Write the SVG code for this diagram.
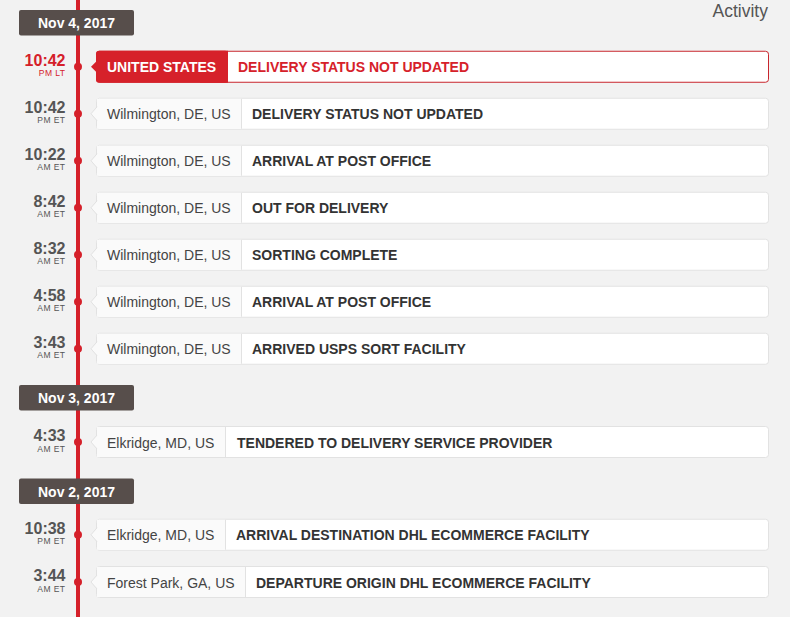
<svg xmlns="http://www.w3.org/2000/svg" width="790" height="617" viewBox="0 0 790 617">
<style>
text{font-family:"Liberation Sans",Arial,sans-serif}
.bg{fill:#f2f2f2}
.line{fill:#d5202a}
.dot{fill:#d5202a}
.badge{fill:#574e4b}
.btxt{fill:#fff;font-size:14px;font-weight:bold;text-anchor:middle}
.time{fill:#555;font-size:16px;font-weight:bold;text-anchor:end}
.tz{fill:#555;font-size:8.5px;letter-spacing:0.45px;text-anchor:end}
.card{fill:#fff;stroke:#e2e2e2;stroke-width:1}
.left{fill:#fafafa}
.sep{stroke:#e2e2e2;stroke-width:1}
.ptr{fill:#fafafa}
.ptrs{fill:none;stroke:#e2e2e2;stroke-width:1}
.loc{fill:#444;font-size:14px}
.st{fill:#333;font-size:14px;font-weight:bold}
.red .time,.red .tz{fill:#d5202a}
.red .card{stroke:#c8262d}
.red .left,.red .ptr{fill:#d6212a}
.red .loc{fill:#fff;font-weight:bold}
.red .st{fill:#d6212a}
.act{fill:#555;font-size:17.5px;text-anchor:end}
</style>
<rect class="bg" x="0" y="0" width="790" height="617"/>
<text class="act" x="768" y="17">Activity</text>
<g id="connectors">
<rect class="line" x="76" y="0" width="4" height="617"/>
</g>
<g id="date-nov4"><rect class="badge" x="19" y="10" width="115" height="25.5" rx="2"/><text class="btxt" x="76.5" y="28">Nov 4, 2017</text></g>
<g id="date-nov3"><rect class="badge" x="19" y="385" width="115" height="25.5" rx="2"/><text class="btxt" x="76.5" y="403">Nov 3, 2017</text></g>
<g id="date-nov2"><rect class="badge" x="19" y="478.5" width="115" height="25.5" rx="2"/><text class="btxt" x="76.5" y="496.5">Nov 2, 2017</text></g>

<g id="row1" class="red" transform="translate(0,66.75)">
<text class="time" x="65.5" y="-1">10:42</text><text class="tz" x="65.5" y="9.5">PM LT</text>
<circle class="dot" cx="78" cy="0" r="4"/>
<rect class="card" x="96.5" y="-15.5" width="672" height="31" rx="3"/>
<rect class="left" x="96" y="-16" width="132" height="32" rx="3"/>
<rect class="left" x="200" y="-16" width="28" height="32"/>
<polygon class="ptr" points="98,-7 91,0 98,7"/>
<text class="loc" x="107" y="5.5">UNITED STATES</text>
<text class="st" x="238" y="5.5">DELIVERY STATUS NOT UPDATED</text>
</g>

<g id="row2" transform="translate(0,113.75)">
<text class="time" x="65.5" y="-1">10:42</text><text class="tz" x="65.5" y="9.5">PM ET</text>
<circle class="dot" cx="78" cy="0" r="4"/>
<rect class="card" x="96.5" y="-15.5" width="672" height="31" rx="3"/>
<rect class="left" x="97" y="-15" width="144.5" height="30"/>
<line class="sep" x1="241.5" y1="-15" x2="241.5" y2="15"/>
<polygon class="ptr" points="97.5,-7 91,0 97.5,7"/><polyline class="ptrs" points="97,-7 91,0 97,7"/>
<text class="loc" x="107" y="5.5">Wilmington, DE, US</text>
<text class="st" x="252" y="5.5">DELIVERY STATUS NOT UPDATED</text>
</g>

<g id="row3" transform="translate(0,160.75)">
<text class="time" x="65.5" y="-1">10:22</text><text class="tz" x="65.5" y="9.5">AM ET</text>
<circle class="dot" cx="78" cy="0" r="4"/>
<rect class="card" x="96.5" y="-15.5" width="672" height="31" rx="3"/>
<rect class="left" x="97" y="-15" width="144.5" height="30"/>
<line class="sep" x1="241.5" y1="-15" x2="241.5" y2="15"/>
<polygon class="ptr" points="97.5,-7 91,0 97.5,7"/><polyline class="ptrs" points="97,-7 91,0 97,7"/>
<text class="loc" x="107" y="5.5">Wilmington, DE, US</text>
<text class="st" x="252" y="5.5">ARRIVAL AT POST OFFICE</text>
</g>

<g id="row4" transform="translate(0,207.75)">
<text class="time" x="65.5" y="-1">8:42</text><text class="tz" x="65.5" y="9.5">AM ET</text>
<circle class="dot" cx="78" cy="0" r="4"/>
<rect class="card" x="96.5" y="-15.5" width="672" height="31" rx="3"/>
<rect class="left" x="97" y="-15" width="144.5" height="30"/>
<line class="sep" x1="241.5" y1="-15" x2="241.5" y2="15"/>
<polygon class="ptr" points="97.5,-7 91,0 97.5,7"/><polyline class="ptrs" points="97,-7 91,0 97,7"/>
<text class="loc" x="107" y="5.5">Wilmington, DE, US</text>
<text class="st" x="252" y="5.5">OUT FOR DELIVERY</text>
</g>

<g id="row5" transform="translate(0,254.75)">
<text class="time" x="65.5" y="-1">8:32</text><text class="tz" x="65.5" y="9.5">AM ET</text>
<circle class="dot" cx="78" cy="0" r="4"/>
<rect class="card" x="96.5" y="-15.5" width="672" height="31" rx="3"/>
<rect class="left" x="97" y="-15" width="144.5" height="30"/>
<line class="sep" x1="241.5" y1="-15" x2="241.5" y2="15"/>
<polygon class="ptr" points="97.5,-7 91,0 97.5,7"/><polyline class="ptrs" points="97,-7 91,0 97,7"/>
<text class="loc" x="107" y="5.5">Wilmington, DE, US</text>
<text class="st" x="252" y="5.5">SORTING COMPLETE</text>
</g>

<g id="row6" transform="translate(0,301.75)">
<text class="time" x="65.5" y="-1">4:58</text><text class="tz" x="65.5" y="9.5">AM ET</text>
<circle class="dot" cx="78" cy="0" r="4"/>
<rect class="card" x="96.5" y="-15.5" width="672" height="31" rx="3"/>
<rect class="left" x="97" y="-15" width="144.5" height="30"/>
<line class="sep" x1="241.5" y1="-15" x2="241.5" y2="15"/>
<polygon class="ptr" points="97.5,-7 91,0 97.5,7"/><polyline class="ptrs" points="97,-7 91,0 97,7"/>
<text class="loc" x="107" y="5.5">Wilmington, DE, US</text>
<text class="st" x="252" y="5.5">ARRIVAL AT POST OFFICE</text>
</g>

<g id="row7" transform="translate(0,348.75)">
<text class="time" x="65.5" y="-1">3:43</text><text class="tz" x="65.5" y="9.5">AM ET</text>
<circle class="dot" cx="78" cy="0" r="4"/>
<rect class="card" x="96.5" y="-15.5" width="672" height="31" rx="3"/>
<rect class="left" x="97" y="-15" width="144.5" height="30"/>
<line class="sep" x1="241.5" y1="-15" x2="241.5" y2="15"/>
<polygon class="ptr" points="97.5,-7 91,0 97.5,7"/><polyline class="ptrs" points="97,-7 91,0 97,7"/>
<text class="loc" x="107" y="5.5">Wilmington, DE, US</text>
<text class="st" x="252" y="5.5">ARRIVED USPS SORT FACILITY</text>
</g>

<g id="row8" transform="translate(0,442)">
<text class="time" x="65.5" y="-1">4:33</text><text class="tz" x="65.5" y="9.5">AM ET</text>
<circle class="dot" cx="78" cy="0" r="4"/>
<rect class="card" x="96.5" y="-15.5" width="672" height="31" rx="3"/>
<rect class="left" x="97" y="-15" width="128.5" height="30"/>
<line class="sep" x1="225.5" y1="-15" x2="225.5" y2="15"/>
<polygon class="ptr" points="97.5,-7 91,0 97.5,7"/><polyline class="ptrs" points="97,-7 91,0 97,7"/>
<text class="loc" x="107" y="5.5">Elkridge, MD, US</text>
<text class="st" x="237" y="5.5">TENDERED TO DELIVERY SERVICE PROVIDER</text>
</g>

<g id="row9" transform="translate(0,534.75)">
<text class="time" x="65.5" y="-1">10:38</text><text class="tz" x="65.5" y="9.5">PM ET</text>
<circle class="dot" cx="78" cy="0" r="4"/>
<rect class="card" x="96.5" y="-15.5" width="672" height="31" rx="3"/>
<rect class="left" x="97" y="-15" width="128.5" height="30"/>
<line class="sep" x1="225.5" y1="-15" x2="225.5" y2="15"/>
<polygon class="ptr" points="97.5,-7 91,0 97.5,7"/><polyline class="ptrs" points="97,-7 91,0 97,7"/>
<text class="loc" x="107" y="5.5">Elkridge, MD, US</text>
<text class="st" x="236" y="5.5">ARRIVAL DESTINATION DHL ECOMMERCE FACILITY</text>
</g>

<g id="row10" transform="translate(0,582)">
<text class="time" x="65.5" y="-1">3:44</text><text class="tz" x="65.5" y="9.5">AM ET</text>
<circle class="dot" cx="78" cy="0" r="4"/>
<rect class="card" x="96.5" y="-15.5" width="672" height="31" rx="3"/>
<rect class="left" x="97" y="-15" width="148.5" height="30"/>
<line class="sep" x1="245.5" y1="-15" x2="245.5" y2="15"/>
<polygon class="ptr" points="97.5,-7 91,0 97.5,7"/><polyline class="ptrs" points="97,-7 91,0 97,7"/>
<text class="loc" x="107" y="5.5">Forest Park, GA, US</text>
<text class="st" x="256" y="5.5">DEPARTURE ORIGIN DHL ECOMMERCE FACILITY</text>
</g>
</svg>
